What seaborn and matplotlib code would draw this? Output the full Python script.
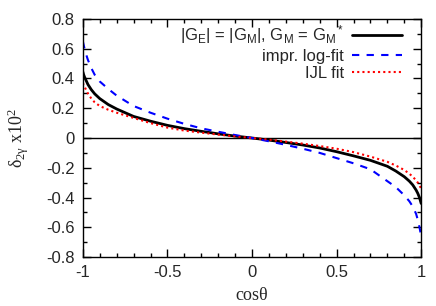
import numpy as np
import pandas as pd
import matplotlib
matplotlib.use("Agg")
import matplotlib.pyplot as plt
import seaborn as sns
from matplotlib.ticker import MultipleLocator

sns.set_style("ticks")
plt.rcParams['font.family'] = ['Liberation Sans', 'DejaVu Sans']
plt.rcParams['mathtext.default'] = 'regular'

# values
cos_theta = [-1.0, -0.995, -0.99, -0.98, -0.97, -0.95, -0.93, -0.9, -0.85, -0.8, -0.7, -0.6, -0.5, -0.4, -0.3, -0.2, -0.1,
             0.0, 0.1, 0.2, 0.3, 0.4, 0.5, 0.6, 0.7, 0.8, 0.85, 0.9, 0.93, 0.95, 0.97, 0.98, 0.99, 0.995, 1.0]
delta_exact = [0.445, 0.425, 0.41, 0.385, 0.36, 0.325, 0.297, 0.265, 0.225, 0.195, 0.145, 0.113, 0.085, 0.063, 0.045, 0.028, 0.013,
               0.0, -0.014, -0.03, -0.047, -0.067, -0.092, -0.12, -0.15, -0.19, -0.222, -0.26, -0.29, -0.315, -0.35, -0.372, -0.40, -0.42, -0.44]
delta_logfit = [0.65, 0.625, 0.60, 0.56, 0.525, 0.47, 0.425, 0.38, 0.33, 0.285, 0.215, 0.17, 0.13, 0.095, 0.065, 0.042, 0.02,
                0.0, -0.022, -0.046, -0.072, -0.10, -0.135, -0.17, -0.21, -0.29, -0.33, -0.385, -0.425, -0.46, -0.51, -0.55, -0.60, -0.63, -0.66]
delta_ijl = [0.37, 0.357, 0.345, 0.322, 0.30, 0.265, 0.24, 0.215, 0.19, 0.17, 0.135, 0.10, 0.07, 0.05, 0.036, 0.023, 0.011,
             0.0, -0.011, -0.024, -0.038, -0.054, -0.072, -0.095, -0.125, -0.16, -0.185, -0.215, -0.24, -0.26, -0.285, -0.30, -0.32, -0.33, -0.34]

labels = [r'|G$_E$| = |G$_M$|, G$_M$ = G$_M$$^*$', 'impr. log-fit', 'IJL fit']

df = pd.DataFrame({'x': cos_theta, 'exact': delta_exact, 'logfit': delta_logfit, 'ijl': delta_ijl})

fig = plt.figure(figsize=(4.36, 3.06), dpi=100)
ax = fig.add_axes([0.190, 0.160, 0.776, 0.778])

ax.axhline(0, color='black', lw=1.0, zorder=1)
sns.lineplot(data=df, x='x', y='exact', ax=ax, color='black', lw=2.0, label=labels[0])
sns.lineplot(data=df, x='x', y='logfit', ax=ax, color='#0000ff', lw=1.5, label=labels[1])
sns.lineplot(data=df, x='x', y='ijl', ax=ax, color='#ff0000', lw=1.5, label=labels[2])
ax.lines[2].set_dashes([3.5, 3.5])
ax.lines[3].set_dashes([1, 1.5])

ax.set_xlim(-1, 1)
ax.set_ylim(-0.8, 0.8)
ax.xaxis.set_major_locator(MultipleLocator(0.5))
ax.xaxis.set_minor_locator(MultipleLocator(0.1))
ax.yaxis.set_major_locator(MultipleLocator(0.2))
ax.yaxis.set_minor_locator(MultipleLocator(0.1))
fmt = plt.FuncFormatter(lambda v, p: '0' if abs(v) < 1e-9 else ('%g' % v))
ax.xaxis.set_major_formatter(fmt)
ax.yaxis.set_major_formatter(fmt)
ax.tick_params(which='both', direction='in', top=True, right=True, labelsize=12, color='black', width=1)
ax.tick_params(which='major', length=6, pad=6)
ax.tick_params(which='minor', length=3)
for s in ax.spines.values():
    s.set_color('black')
    s.set_linewidth(1.0)

ax.set_xlabel(r'cos$\theta$', family=['Liberation Serif'], fontsize=13, labelpad=5)
ax.set_ylabel(r'$\delta_{2\gamma}$ x10$^2$', family=['Liberation Serif'], fontsize=13, labelpad=11)

leg = ax.legend(loc='upper right', bbox_to_anchor=(0.944, 0.982), frameon=False, markerfirst=False,
                handlelength=3.0, handletextpad=0.5, labelspacing=0.15, borderaxespad=0, borderpad=0,
                fontsize=12)
for t in leg.get_texts():
    t.set_ha('right')
leg._legend_box.align = 'right'

fig.savefig('out.png', dpi=100)
